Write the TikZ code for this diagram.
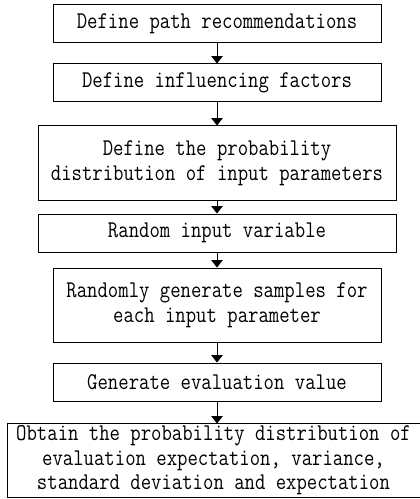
\documentclass[tikz,border=0pt]{standalone}
\usepackage{fontspec}
\newfontfamily\boxfont[FakeStretch=0.84]{Latin Modern Mono}
\usetikzlibrary{arrows.meta}
\begin{document}
\begin{tikzpicture}[x=0.75pt,y=-0.75pt,
  stepbox/.style={draw,line width=0.75pt,inner sep=0pt,align=center,
    font=\boxfont\fontsize{18}{18.5}\selectfont},
  flow/.style={line width=0.75pt,-{Triangle[width=8.5pt,length=5.5pt]}}]
\useasboundingbox (0,0) rectangle (420,499);
\clip (0,0) rectangle (420,499);
\node[stepbox,minimum width=246pt,minimum height=28.5pt] (b1) at (217,24) {Define path recommendations};
\node[stepbox,minimum width=246pt,minimum height=28.5pt] (b2) at (217,83) {Define influencing factors};
\node[stepbox,minimum width=268.5pt,minimum height=55.5pt] (b3) at (217,163) {Define the probability\\distribution of input parameters};
\node[stepbox,minimum width=268.5pt,minimum height=28.5pt] (b4) at (217,233) {Random input variable};
\node[stepbox,minimum width=246pt,minimum height=55.5pt] (b5) at (217,305) {Randomly generate samples for\\each input parameter};
\node[stepbox,minimum width=246pt,minimum height=28.5pt] (b6) at (217,382) {Generate evaluation value};
\node[stepbox,draw=none,minimum width=308pt,minimum height=54.75pt] (b7) at (213.5,460.5) {Obtain the probability distribution of\\evaluation expectation, variance,\\standard deviation and expectation};
\draw[line width=0.75pt] ([xshift=10pt]b7.north east) -- (b7.north west) -- (b7.south west) -- ([xshift=10pt]b7.south east);
\draw[flow] (b1.south) -- (b2.north);
\draw[flow] (b2.south) -- (b3.north);
\draw[flow] (b3.south) -- (b4.north);
\draw[flow] (b4.south) -- (b5.north);
\draw[flow] (b5.south) -- (b6.north);
\draw[flow] (b6.south) -- (b6.south |- b7.north);
\end{tikzpicture}
\end{document}
